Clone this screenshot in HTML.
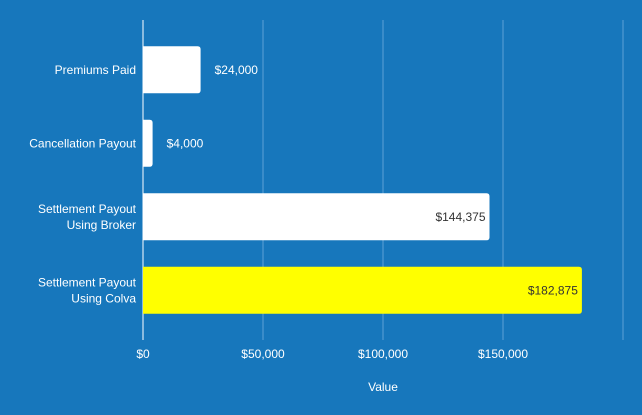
<!DOCTYPE html>
<html><head><style>
body{margin:0;background:#1777bc;}
svg{display:block;font-family:"Liberation Sans",sans-serif;}
</style></head><body>
<svg width="642" height="415">
<rect width="642" height="415" fill="#1777bc"/>
<g id="grid"></g><g id="bars"></g><g id="labels"></g>
</svg>
<script>
const categories=[["Premiums Paid"],["Cancellation Payout"],["Settlement Payout","Using Broker"],["Settlement Payout","Using Colva"]];
const values=[24000,4000,144375,182875];
const barColors=["#ffffff","#ffffff","#ffffff","#ffff00"];
const ticks=[0,50000,100000,150000,200000];
const tickLabels=["$0","$50,000","$100,000","$150,000",""];
const NS="http://www.w3.org/2000/svg";
const x0=143,pxPer=120/50000,plotTop=33,band=73.5,bh=47;
const xs=v=>x0+v*pxPer;
const yb=i=>plotTop+i*band+(band-bh)/2;
function mk(t,a,p){const e=document.createElementNS(NS,t);for(const k in a)e.setAttribute(k,a[k]);p.appendChild(e);return e;}
const grid=document.getElementById('grid'),bars=document.getElementById('bars'),labs=document.getElementById('labels');
ticks.forEach((t,i)=>{
 const l=mk('line',{x1:xs(t),x2:xs(t),y1:20,y2:340,stroke:i==0?'#ffffff':'#5ea2d6','stroke-width':1},grid);
 
 
 if(tickLabels[i]){const tx=mk('text',{x:xs(t),y:358,'text-anchor':'middle',fill:'#fff','font-size':12},labs);tx.textContent=tickLabels[i];
 
 }
});
const at=mk('text',{x:383,y:391,'text-anchor':'middle',fill:'#fff','font-size':12},labs);at.textContent="Value";


values.forEach((v,i)=>{
 const y=yb(i),w=xs(v)-x0;
 const p=mk('path',{d:`M${x0},${y}H${x0+w-3}Q${x0+w},${y} ${x0+w},${y+3}V${y+bh-3}Q${x0+w},${y+bh} ${x0+w-3},${y+bh}H${x0}Z`,fill:barColors[i]},bars);
 
 
 const s="$"+v.toLocaleString('en-US');
 const inside=w>60;
 const vl=mk('text',{x:inside?x0+w-4:x0+w+14,y:y+bh/2+4,'text-anchor':inside?'end':'start',fill:inside?'#333':'#fff','font-size':12},labs);
 vl.textContent=s;
 
 
 const lines=categories[i];
 lines.forEach((ln,j)=>{
  const c=mk('text',{x:136,y:y+bh/2+4+(j-(lines.length-1)/2)*16,'text-anchor':'end',fill:'#fff','font-size':12},labs);
  c.textContent=ln;
  
  
 });
});
</script>
</body></html>
